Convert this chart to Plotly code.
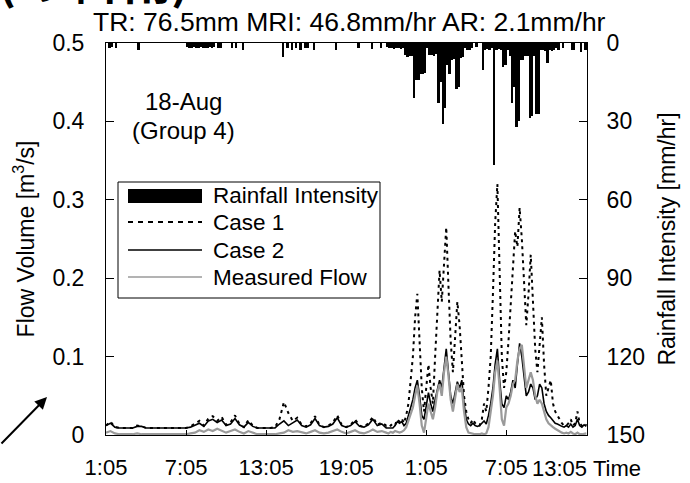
import plotly.graph_objects as go

# ---------------- data ----------------
tick_hours = [0, 6, 12, 18, 24, 30, 36]
tick_labels = ["1:05", "7:05", "13:05", "19:05", "1:05", "7:05", "13:05"]

# rainfall (10-minute bars), minutes after 1:05 on day 1
rain_minutes = [10, 20, 40, 140, 360, 370, 380, 390, 400, 410, 420, 430, 440, 450, 460, 470, 480, 500,
                510, 560, 580, 610, 790, 810, 830, 850, 870, 890, 900, 930, 1030, 1130, 1190, 1230, 1260,
                1270, 1280, 1290, 1300, 1310, 1320, 1330, 1340, 1350, 1360, 1370, 1380, 1390, 1400,
                1410, 1420, 1430, 1440, 1450, 1460, 1470, 1480, 1490, 1500, 1510, 1520, 1530, 1540,
                1550, 1560, 1570, 1580, 1590, 1600, 1610, 1620, 1630, 1640, 1660, 1690, 1700, 1710,
                1720, 1730, 1740, 1750, 1760, 1770, 1780, 1790, 1800, 1810, 1820, 1830, 1840, 1850,
                1860, 1870, 1880, 1890, 1900, 1910, 1920, 1930, 1940, 1950, 1960, 1970, 1980, 1990,
                2000, 2010, 2020, 2030, 2050, 2090, 2100, 2130, 2150]
rain_intensity = [2.0, 1.5, 2.0, 2.5, 1.5, 2.0, 1.8, 1.5, 2.0, 1.8, 1.5, 2.0, 1.8, 2.0, 1.5, 2.0, 1.5, 2.0,
                  1.8, 2.0, 1.8, 2.5, 5.4, 1.8, 2.5, 2.0, 2.5, 1.8, 2.0, 2.5, 2.8, 2.0, 2.2, 1.8, 1.5,
                  1.8, 2.0, 2.2, 1.8, 2.0, 2.2, 2.0, 4.5, 5.5, 5.0, 4.8, 21.0, 14.0, 14.0,
                  12.0, 12.0, 11.5, 2.0, 4.6, 4.5, 4.8, 4.2, 23.0, 15.0, 31.0, 25.0, 8.5, 12.0,
                  6.5, 6.0, 17.6, 17.0, 5.8, 5.5, 2.0, 2.5, 2.5, 2.0, 1.5, 10.3, 2.5, 2.2,
                  2.5, 2.0, 46.8, 2.5, 2.2, 2.5, 9.0, 8.5, 2.5, 5.0, 23.0, 16.7, 32.0, 30.0,
                  6.5, 6.5, 5.0, 5.0, 28.7, 28.0, 5.0, 27.0, 27.0, 2.5, 2.5, 3.0, 7.7, 2.5,
                  3.0, 2.5, 2.0, 2.5, 2.0, 2.7, 2.5, 3.5, 2.5]

# flow series: 20-min samples before the storm, 10-min samples during it
flow_minutes = list(range(0, 1260, 20)) + list(range(1260, 2170, 10))

case1_early = [0.012, 0.017, 0.010, 0.009, 0.009, 0.009, 0.009, 0.012, 0.011, 0.009,
               0.009, 0.009, 0.009, 0.009, 0.009, 0.009, 0.009, 0.009, 0.009, 0.011,
               0.014, 0.018, 0.012, 0.021, 0.024, 0.018, 0.023, 0.013, 0.016, 0.025,
               0.014, 0.010, 0.019, 0.012, 0.009, 0.009, 0.009, 0.009, 0.010, 0.020,
               0.042, 0.028, 0.018, 0.022, 0.013, 0.011, 0.015, 0.024, 0.013, 0.010,
               0.012, 0.016, 0.025, 0.013, 0.010, 0.013, 0.020, 0.012, 0.010, 0.015,
               0.023, 0.013, 0.016]
case1_storm = [0.012, 0.014, 0.012, 0.015, 0.013, 0.020, 0.017, 0.021, 0.015, 0.025,
               0.040, 0.070, 0.100, 0.150, 0.180, 0.120, 0.060, 0.030, 0.060, 0.090,
               0.060, 0.040, 0.100, 0.160, 0.210, 0.170, 0.220, 0.265, 0.190, 0.120,
               0.080, 0.120, 0.170, 0.140, 0.090, 0.050, 0.030, 0.020, 0.015, 0.020,
               0.015, 0.012, 0.012, 0.020, 0.040, 0.030, 0.060, 0.100, 0.180, 0.270,
               0.320, 0.200, 0.100, 0.060, 0.080, 0.120, 0.170, 0.210, 0.260, 0.240,
               0.290, 0.250, 0.190, 0.140, 0.180, 0.230, 0.170, 0.110, 0.080, 0.120,
               0.150, 0.090, 0.050, 0.060, 0.070, 0.040, 0.030, 0.025, 0.020, 0.015,
               0.012, 0.012, 0.015, 0.020, 0.012, 0.015, 0.030, 0.015, 0.012, 0.015,
               0.012]

case2_early = [0.012, 0.015, 0.010, 0.009, 0.009, 0.009, 0.009, 0.011, 0.011, 0.009,
               0.009, 0.009, 0.009, 0.009, 0.009, 0.009, 0.009, 0.009, 0.009, 0.010,
               0.012, 0.015, 0.011, 0.018, 0.020, 0.016, 0.019, 0.012, 0.014, 0.021,
               0.013, 0.010, 0.016, 0.011, 0.009, 0.009, 0.009, 0.009, 0.009, 0.014,
               0.018, 0.012, 0.016, 0.019, 0.012, 0.010, 0.013, 0.021, 0.012, 0.010,
               0.011, 0.014, 0.022, 0.012, 0.010, 0.012, 0.017, 0.011, 0.010, 0.013,
               0.020, 0.012, 0.014]
case2_storm = [0.009, 0.009, 0.009, 0.009, 0.012, 0.017, 0.015, 0.017, 0.012, 0.015,
               0.025, 0.035, 0.045, 0.060, 0.070, 0.050, 0.025, 0.020, 0.040, 0.054,
               0.040, 0.030, 0.045, 0.060, 0.070, 0.060, 0.090, 0.110, 0.080, 0.050,
               0.040, 0.055, 0.068, 0.060, 0.070, 0.040, 0.020, 0.014, 0.012, 0.015,
               0.012, 0.011, 0.012, 0.015, 0.018, 0.014, 0.025, 0.040, 0.060, 0.090,
               0.110, 0.070, 0.040, 0.035, 0.050, 0.045, 0.055, 0.070, 0.060, 0.090,
               0.117, 0.100, 0.070, 0.050, 0.055, 0.065, 0.060, 0.045, 0.050, 0.065,
               0.060, 0.040, 0.030, 0.025, 0.022, 0.018, 0.015, 0.014, 0.012, 0.011,
               0.010, 0.012, 0.010, 0.014, 0.010, 0.012, 0.020, 0.012, 0.010, 0.013,
               0.011]

measured_early = [0.003, 0.005, 0.002, 0.001, 0.001, 0.001, 0.001, 0.002, 0.001, 0.001,
                  0.001, 0.001, 0.001, 0.001, 0.001, 0.001, 0.001, 0.001, 0.001, 0.002,
                  0.003, 0.006, 0.004, 0.007, 0.005, 0.008, 0.006, 0.003, 0.005, 0.007,
                  0.004, 0.002, 0.005, 0.003, 0.001, 0.001, 0.001, 0.001, 0.001, 0.002,
                  0.003, 0.006, 0.004, 0.005, 0.003, 0.002, 0.004, 0.006, 0.003, 0.002,
                  0.003, 0.005, 0.007, 0.004, 0.002, 0.004, 0.006, 0.003, 0.002, 0.004,
                  0.007, 0.004, 0.005]
measured_storm = [0.003, 0.002, 0.004, 0.003, 0.005, 0.004, 0.003, 0.004, 0.006, 0.010,
                  0.018, 0.025, 0.035, 0.050, 0.063, 0.040, 0.012, 0.003, 0.020, 0.040,
                  0.030, 0.020, 0.035, 0.055, 0.065, 0.050, 0.080, 0.100, 0.075, 0.045,
                  0.030, 0.050, 0.065, 0.055, 0.060, 0.030, 0.010, 0.003, 0.002, 0.002,
                  0.001, 0.001, 0.001, 0.002, 0.001, 0.002, 0.010, 0.030, 0.050, 0.080,
                  0.095, 0.060, 0.020, 0.012, 0.035, 0.040, 0.050, 0.065, 0.070, 0.095,
                  0.110, 0.115, 0.085, 0.060, 0.070, 0.080, 0.070, 0.050, 0.040, 0.045,
                  0.040, 0.030, 0.020, 0.015, 0.012, 0.010, 0.008, 0.006, 0.004, 0.003,
                  0.002, 0.003, 0.002, 0.004, 0.002, 0.001, 0.003, 0.001, 0.001, 0.002,
                  0.002]

flow_ticks = [0, 0.1, 0.2, 0.3, 0.4, 0.5]
flow_tick_labels = ["0", "0.1", "0.2", "0.3", "0.4", "0.5"]
rain_ticks = [0, 30, 60, 90, 120, 150]

# ---------------- figure ----------------
FONT = "Liberation Sans, Arial, Helvetica, sans-serif"
W, H = 690, 483
L, R, T, B = 106, 587, 43, 435  # plot area in pixels


def px(xp):
    return (xp - L) / (R - L)


def py(yp):
    return (B - yp) / (B - T)


rain_hours = [m / 60 for m in rain_minutes]
flow_hours = [m / 60 for m in flow_minutes]

fig = go.Figure()
fig.add_trace(go.Bar(x=rain_hours, y=rain_intensity, yaxis="y2", width=11 / 60, offset=0,
                     marker=dict(color="black", line=dict(width=0)), name="Rainfall Intensity"))
fig.add_trace(go.Scatter(x=flow_hours, y=case1_early + case1_storm, mode="lines", name="Case 1",
                         line=dict(color="black", width=2, dash="3px,4px")))
fig.add_trace(go.Scatter(x=flow_hours, y=case2_early + case2_storm, mode="lines", name="Case 2",
                         line=dict(color="black", width=1.6)))
fig.add_trace(go.Scatter(x=flow_hours, y=measured_early + measured_storm, mode="lines",
                         name="Measured Flow", line=dict(color="#9a9a9a", width=2.2)))

tickfont = dict(family=FONT, size=23, color="black")
xtickfont = dict(family=FONT, size=22, color="black")
titlefont = dict(family=FONT, size=23, color="black")

# the last time label sits left of its tick (next to the "Time" caption), as in the source
xlabels = tick_labels[:-1] + [""]

fig.update_layout(
    width=W, height=H,
    margin=dict(l=L, r=W - R, t=T, b=H - B, autoexpand=False),
    plot_bgcolor="white", paper_bgcolor="white",
    showlegend=False, bargap=0,
    font=dict(family=FONT, color="black"),
    xaxis=dict(range=[0, 36.05], tickvals=tick_hours, ticktext=xlabels, automargin=False,
               ticks="inside", ticklen=5, tickcolor="black", ticklabelstandoff=13,
               showline=True, linecolor="black", linewidth=1, mirror=True,
               showgrid=False, zeroline=False, tickfont=xtickfont),
    yaxis=dict(range=[0, 0.5], tickvals=flow_ticks, ticktext=flow_tick_labels, automargin=False,
               ticks="inside", ticklen=8, tickcolor="black", ticklabelstandoff=16,
               showline=True, linecolor="black", linewidth=1, mirror=True,
               showgrid=False, zeroline=False, tickfont=tickfont,
               title=dict(text="Flow Volume [m<sup>3</sup>/s]", font=titlefont, standoff=11)),
    yaxis2=dict(overlaying="y", side="right", range=[150, 0], tickvals=rain_ticks, automargin=False,
                ticks="inside", ticklen=8, tickcolor="black", ticklabelstandoff=14,
                showline=True, linecolor="black", linewidth=1,
                showgrid=False, zeroline=False, tickfont=tickfont,
                title=dict(text="Rainfall Intensity [mm/hr]", font=titlefont, standoff=14)),
)

ann = []
ann.append(dict(text="TR: 76.5mm MRI: 46.8mm/hr AR: 2.1mm/hr", x=px(349), y=py(22),
                xref="paper", yref="paper", showarrow=False, xanchor="center", yanchor="middle",
                font=dict(family=FONT, size=26.5, color="black")))
ann.append(dict(text="18-Aug", x=px(183), y=py(102), xref="paper", yref="paper", showarrow=False,
                xanchor="center", yanchor="middle", font=dict(family=FONT, size=24, color="black")))
ann.append(dict(text="(Group 4)", x=px(183), y=py(130), xref="paper", yref="paper", showarrow=False,
                xanchor="center", yanchor="middle", font=dict(family=FONT, size=24, color="black")))
ann.append(dict(text="13:05", x=px(589), y=py(468), xref="paper", yref="paper", showarrow=False,
                xanchor="right", yanchor="middle", font=xtickfont))
ann.append(dict(text="Time", x=px(591), y=py(468), xref="paper", yref="paper", showarrow=False,
                xanchor="left", yanchor="middle", font=xtickfont))
# cropped heading fragment at top-left
ann.append(dict(text="<b>(の 降雨)</b>", x=px(-4), y=py(15), xref="paper", yref="paper",
                showarrow=False, xanchor="left", yanchor="bottom",
                font=dict(family="Noto Sans CJK JP", size=48, color="black")))
# arrow at bottom-left
ann.append(dict(text="", x=px(47), y=py(397), xref="paper", yref="paper", showarrow=True,
                ax=-52, ay=48, arrowhead=2, arrowsize=1.2, arrowwidth=2, arrowcolor="black"))

# legend (drawn in pixel positions)
shapes = []
shapes.append(dict(type="rect", xref="paper", yref="paper", x0=px(118), x1=px(380), y0=py(298), y1=py(182),
                   line=dict(color="black", width=1), fillcolor="white"))
shapes.append(dict(type="rect", xref="paper", yref="paper", x0=px(128), x1=px(202), y0=py(203), y1=py(189),
                   line=dict(width=0), fillcolor="black"))
shapes.append(dict(type="line", xref="paper", yref="paper", x0=px(128), x1=px(202), y0=py(222), y1=py(222),
                   line=dict(color="black", width=2, dash="5px,5px")))
shapes.append(dict(type="line", xref="paper", yref="paper", x0=px(128), x1=px(202), y0=py(250), y1=py(250),
                   line=dict(color="black", width=1.6)))
shapes.append(dict(type="line", xref="paper", yref="paper", x0=px(128), x1=px(202), y0=py(277), y1=py(277),
                   line=dict(color="#9a9a9a", width=1.6)))
legend_names = ["Rainfall Intensity", "Case 1", "Case 2", "Measured Flow"]
legend_rows = [195, 222, 250, 277]
for name, row in zip(legend_names, legend_rows):
    ann.append(dict(text=name, x=px(211), y=py(row), xref="paper", yref="paper", showarrow=False,
                    xanchor="left", yanchor="middle", font=dict(family=FONT, size=22.5, color="black")))

fig.update_layout(annotations=ann, shapes=shapes)
fig.write_html("out.html", config={"displayModeBar": False},
               post_script="document.body.style.margin='0';")
